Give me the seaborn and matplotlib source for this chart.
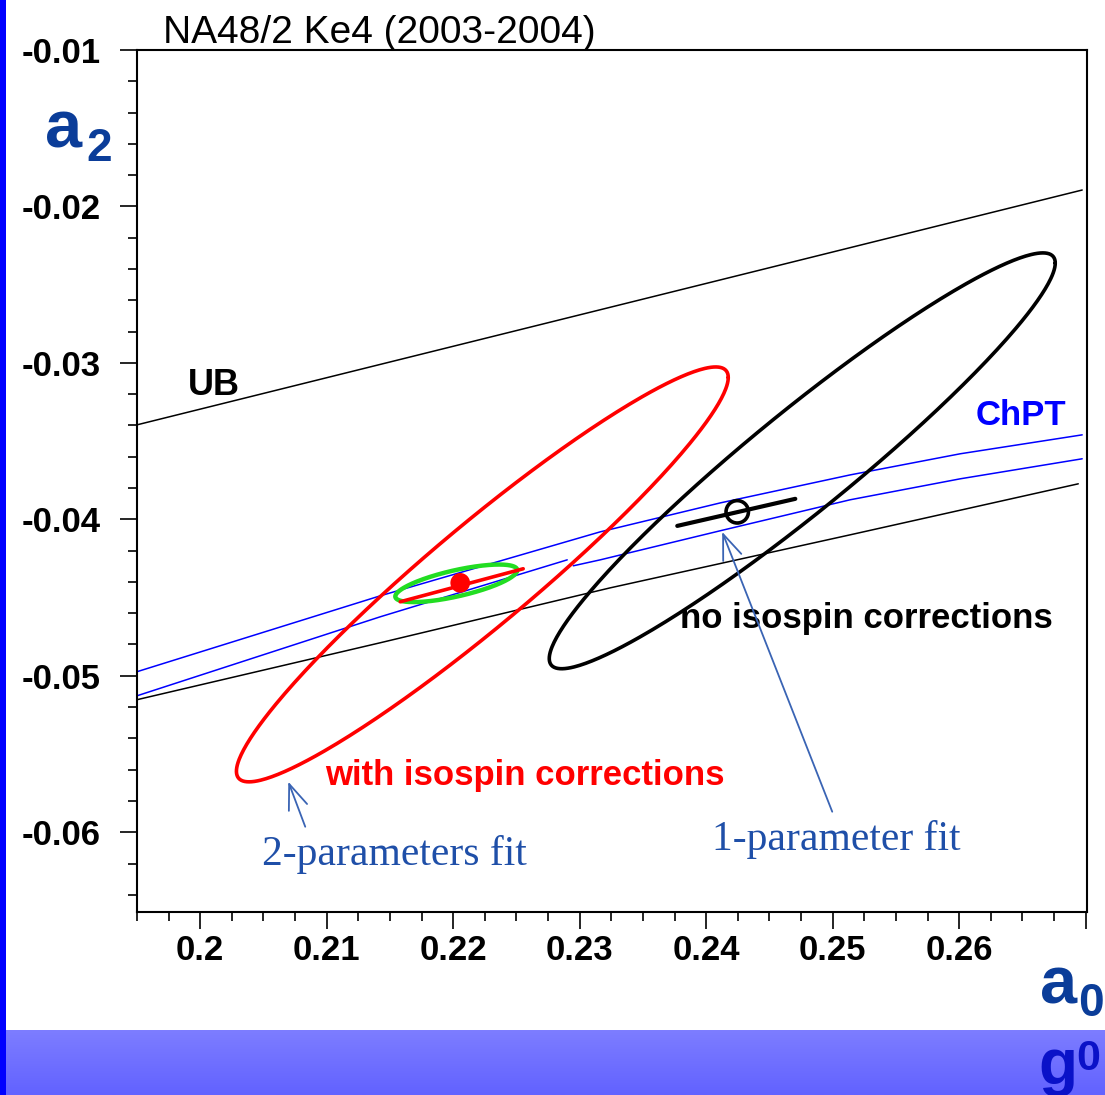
import numpy as np
import pandas as pd
import matplotlib
matplotlib.use("Agg")
import matplotlib.pyplot as plt
from matplotlib.ticker import FixedLocator, MultipleLocator
from matplotlib.patches import Rectangle
from matplotlib.colors import LinearSegmentedColormap
import seaborn as sns

# ---------------- data ----------------
x_ticks = [0.20, 0.21, 0.22, 0.23, 0.24, 0.25, 0.26, 0.27]
x_tick_labels = ["0.2", "0.21", "0.22", "0.23", "0.24", "0.25", "0.26", ""]
y_ticks = [-0.01, -0.02, -0.03, -0.04, -0.05, -0.06]
y_tick_labels = ["-0.01", "-0.02", "-0.03", "-0.04", "-0.05", "-0.06"]
x_range = [0.195, 0.2701]
y_range = [-0.0651, -0.0100]

ub_upper_a0 = [0.195, 0.26972]
ub_upper_a2 = [-0.03396, -0.01895]
ub_lower_a0 = [0.195, 0.21423, 0.23241, 0.25138, 0.26941]
ub_lower_a2 = [-0.05153, -0.04789, -0.04438, -0.04099, -0.03773]

chpt_upper_a0 = [0.195, 0.21423, 0.23162, 0.24111, 0.25138, 0.26008, 0.26972]
chpt_upper_a2 = [-0.04974, -0.04489, -0.04080, -0.03895, -0.03716, -0.03581,
                 -0.03460]
chpt_lower1_a0 = [0.195, 0.21423, 0.22901]
chpt_lower1_a2 = [-0.05128, -0.04623, -0.04259]
chpt_lower2_a0 = [0.22949, 0.23162, 0.24111, 0.25138, 0.26008, 0.26972]
chpt_lower2_a2 = [-0.04297, -0.04259, -0.04073, -0.03875, -0.03741, -0.03613]

# 68% contours: centre, sigma(a0), sigma(a2), correlation
ellipse_names = ["with isospin", "no isospin", "1-par band"]
ellipse_c0 = [0.22230, 0.24759, 0.22024]
ellipse_c2 = [-0.04352, -0.03626, -0.04409]
ellipse_s0 = [0.01944, 0.02000, 0.00482]
ellipse_s2 = [0.01326, 0.01329, 0.00120]
ellipse_rho = [0.949, 0.951, 0.70]
ellipse_colors = ["#ff0000", "#000000", "#22dd22"]
ellipse_widths = [2.6, 2.6, 3.2]

# fit points (1-parameter fits along ChPT constraint)
red_point = (0.22055, -0.04406)
red_bar_a0 = [0.21581, 0.22553]
red_bar_a2 = [-0.04527, -0.04316]
black_point = (0.24245, -0.03952)
black_bar_a0 = [0.23771, 0.24704]
black_bar_a2 = [-0.04042, -0.03869]

# ---------------- figure ----------------
sns.set_style("ticks")
plt.rcParams["font.family"] = ["Liberation Sans", "DejaVu Sans"]
plt.rcParams["text.color"] = "black"
plt.rcParams["axes.linewidth"] = 1.5

W, H = 1105, 1095
fig = plt.figure(figsize=(W / 100, H / 100), dpi=100)
fig.patch.set_facecolor("white")

# bottom gradient band
band = fig.add_axes([0, 0, 1, 65 / H])
grad = np.linspace(0, 1, 64).reshape(-1, 1)
cmap = LinearSegmentedColormap.from_list("band", ["#6262ff", "#7d7dff"])
band.imshow(grad, aspect="auto", cmap=cmap, origin="lower", extent=[0, 1, 0, 1])
band.set_axis_off()

# left blue strip
fig.patches.append(Rectangle((0, 0), 6 / W, 1, transform=fig.transFigure,
                             facecolor="#0000ff", edgecolor="none", zorder=5))

ax = fig.add_axes([137 / W, (H - 912) / H, (1087 - 137) / W, (912 - 50) / H])
ax.set_facecolor("white")


def line(xs, ys, color, lw, **kw):
    df = pd.DataFrame({"a0": xs, "a2": ys})
    sns.lineplot(data=df, x="a0", y="a2", sort=False, estimator=None,
                 color=color, linewidth=lw, ax=ax, **kw)


line(ub_upper_a0, ub_upper_a2, "black", 1.1)
line(ub_lower_a0, ub_lower_a2, "black", 1.1)
line(chpt_upper_a0, chpt_upper_a2, "#0000ff", 1.1)
line(chpt_lower1_a0, chpt_lower1_a2, "#0000ff", 1.1)
line(chpt_lower2_a0, chpt_lower2_a2, "#0000ff", 1.1)

t = np.linspace(0, 2 * np.pi, 400)
for c0, c2, s0, s2, r, col, lw in zip(ellipse_c0, ellipse_c2, ellipse_s0,
                                      ellipse_s2, ellipse_rho, ellipse_colors,
                                      ellipse_widths):
    ex = c0 + s0 * np.cos(t)
    ey = c2 + s2 * (r * np.cos(t) + np.sqrt(1 - r ** 2) * np.sin(t))
    line(ex, ey, col, lw)

line(red_bar_a0, red_bar_a2, "#ff0000", 2.6)
line(black_bar_a0, black_bar_a2, "black", 3.0)
sns.scatterplot(x=[red_point[0]], y=[red_point[1]], color="#ff0000", s=200,
                edgecolor="none", ax=ax, zorder=6)
sns.scatterplot(x=[black_point[0]], y=[black_point[1]], facecolor="none",
                edgecolor="black", linewidth=2.6, s=260, ax=ax, zorder=6)

ax.set_xlim(*x_range)
ax.set_ylim(*y_range)
ax.xaxis.set_major_locator(FixedLocator(x_ticks))
ax.set_xticklabels(x_tick_labels)
ax.yaxis.set_major_locator(FixedLocator(y_ticks))
ax.set_yticklabels(y_tick_labels)
ax.xaxis.set_minor_locator(MultipleLocator(0.0025))
ax.yaxis.set_minor_locator(MultipleLocator(0.002))
ax.tick_params(which="both", direction="out", width=1.2, color="black",
               labelcolor="black")
ax.tick_params(which="major", length=12)
ax.tick_params(which="minor", length=6.5)
ax.tick_params(axis="y", which="major", pad=14)
ax.tick_params(axis="x", which="major", pad=4)
for lab in ax.get_xticklabels() + ax.get_yticklabels():
    lab.set_fontsize(25)
    lab.set_fontweight("bold")
for s in ax.spines.values():
    s.set_visible(True)
    s.set_color("black")
    s.set_linewidth(1.5)
ax.set_xlabel("")
ax.set_ylabel("")

# labels inside the axes
ax.text(0.19905, -0.03204, "UB", fontsize=26, fontweight="bold", color="black",
        va="baseline", ha="left")
ax.text(0.26126, -0.03396, "ChPT", fontsize=25, fontweight="bold",
        color="#0000ff", va="baseline", ha="left")
ax.text(0.23794, -0.04693, "no isospin corrections", fontsize=25,
        fontweight="bold", color="black", va="baseline", ha="left")
ax.text(0.20988, -0.05697, "with isospin corrections", fontsize=25,
        fontweight="bold", color="#ff0000", va="baseline", ha="left")
serif = ["Liberation Serif", "DejaVu Serif"]
ax.text(0.20490, -0.06208, "2-parameters fit", fontsize=30, family=serif,
        color="#1f4fa8", va="baseline", ha="left")
ax.text(0.24047, -0.06112, "1-parameter fit", fontsize=30, family=serif,
        color="#1f4fa8", va="baseline", ha="left")

arrow_kw = dict(arrowstyle="->,head_length=0.9,head_width=0.35",
                color="#3a64b4", lw=1.3, shrinkA=0, shrinkB=0,
                mutation_scale=20)
ax.annotate("", xy=(0.20696, -0.05677), xytext=(0.20830, -0.05965),
            arrowprops=arrow_kw)
ax.annotate("", xy=(0.24126, -0.04080), xytext=(0.24996, -0.05869),
            arrowprops=arrow_kw)

# figure-level texts
fig.text(163 / W, (H - 43) / H, "NA48/2 Ke4 (2003-2004)", fontsize=28,
         color="black", va="baseline", ha="left")
fig.text(45 / W, (H - 147) / H, "a", fontsize=48, fontweight="bold",
         color="#0b3d99", va="baseline", ha="left")
fig.text(86 / W, (H - 161) / H, "2", fontsize=33, fontweight="bold",
         color="#0b3d99", va="baseline", ha="left")
fig.text(1040 / W, (H - 1003) / H, "a", fontsize=48, fontweight="bold",
         color="#0b3d99", va="baseline", ha="left")
fig.text(1078 / W, (H - 1016) / H, "0", fontsize=33, fontweight="bold",
         color="#0b3d99", va="baseline", ha="left")
fig.text(1038 / W, (H - 1084) / H, "g", fontsize=46, fontweight="bold",
         color="#0a12c8", va="baseline", ha="left", zorder=10)
fig.text(1076 / W, (H - 1070) / H, "0", fontsize=31, fontweight="bold",
         color="#0a12c8", va="baseline", ha="left", zorder=10)

fig.savefig("out.png", dpi=100, facecolor="white")
